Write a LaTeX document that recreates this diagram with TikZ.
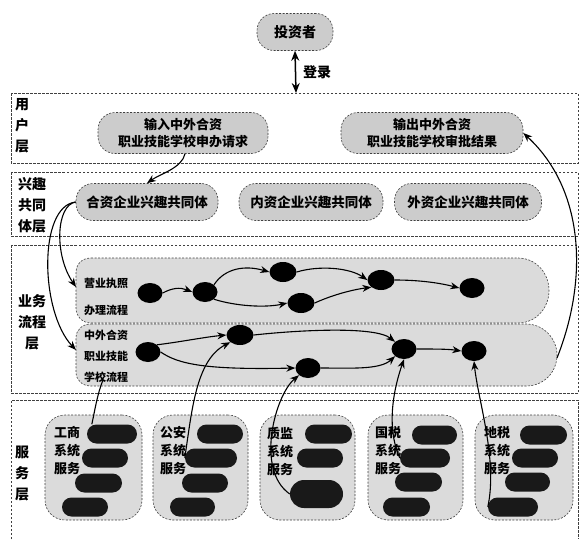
\documentclass[tikz,border=0pt]{standalone}
\usepackage{fontspec}
\newfontfamily\hbf{Noto Sans CJK SC}
\newcommand{\hb}{\hbf\bfseries}
\usetikzlibrary{arrows.meta,shapes.geometric}
\tikzset{
  layer/.style={draw=black!75, dash pattern=on 2.5pt off 1.5pt, line width=0.6pt},
  soft/.style={draw=black!75, dash pattern=on 2pt off 1.5pt, line width=0.6pt, fill=black!20,
               rounded corners=17pt, minimum height=39pt, align=center, inner sep=2pt,
               font=\hb\fontsize{13}{17}\selectfont},
  lane/.style={draw=black!75, dash pattern=on 2pt off 1.5pt, line width=0.6pt, fill=black!14},
  sbox/.style={draw=black!75, dash pattern=on 2pt off 1.5pt, line width=0.6pt, fill=black!14,
               rounded corners=20pt, minimum width=96pt, minimum height=105pt, inner sep=0pt},
  dot/.style={ellipse, fill=black, minimum width=25pt, minimum height=20pt, inner sep=0pt},
  pill/.style={fill=black!90, rounded corners=9.5pt, minimum height=19pt, inner sep=0pt},
  conn/.style={line width=1.1pt, -{Stealth[length=9pt,width=7pt]}},
  plain/.style={line width=1.1pt},
  lbl/.style={font=\hb\fontsize{14}{21}\selectfont, align=center, inner sep=0pt},
  lanetxt/.style={font=\hb\fontsize{11}{21}\selectfont, align=center, inner sep=0pt},
  stxt/.style={font=\hb\fontsize{13}{18}\selectfont, align=center, inner sep=0pt},
}
\begin{document}
\begin{tikzpicture}[x=1pt,y=-1pt]
\useasboundingbox (0,0) rectangle (581,539);
% ---------- layer frames ----------
\draw[layer] (11,93) rectangle (578,163);
\draw[layer] (11,172) rectangle (578,236);
\draw[layer] (11,245) rectangle (578,393);
\draw[layer] (11,539) -- (11,400) -- (578,400) -- (578,539);
% ---------- layer labels ----------
\node[lbl] (Luser) at (22,126) {用\\户\\层};
\node[lbl] (Lint) at (32,205) {兴趣\\共同\\体层};
\node[lbl] (Lproc) at (32,322) {业务\\流程\\层};
\node[lbl] (Lsvc) at (22,473) {服\\务\\层};
% ---------- top ----------
\node[soft, minimum width=76pt, minimum height=37pt, font=\hb\fontsize{14}{17}\selectfont] (inv) at (295,32) {投资者};
\coordinate (ut) at (296,93);
\draw[line width=1.5pt, {Stealth[length=10pt,width=8pt]}-{Stealth[length=10pt,width=8pt]}] (inv.south) -- (ut);
\node[lbl, anchor=west] (login) at (303,72) {登录};
% ---------- user layer ----------
\node[soft, minimum width=170pt, minimum height=41pt] (in) at (183,133) {输入中外合资\\职业技能学校申办请求};
\node[soft, minimum width=182pt, minimum height=41pt] (out) at (432,133) {输出中外合资\\职业技能学校审批结果};
% ---------- interest layer ----------
\node[soft, minimum width=142pt, minimum height=37pt, font=\hb\fontsize{13.5}{17}\selectfont] (c1) at (147,202) {合资企业兴趣共同体};
\node[soft, minimum width=144pt, minimum height=37pt, font=\hb\fontsize{13.5}{17}\selectfont] (c2) at (311,202) {内资企业兴趣共同体};
\node[soft, minimum width=147pt, minimum height=37pt, font=\hb\fontsize{13.5}{17}\selectfont] (c3) at (468,202) {外资企业兴趣共同体};
% ---------- lanes ----------
\path[lane] (91,258) -- (518,258) .. controls (536,258) and (549,273) .. (549,290.5)
   .. controls (549,308) and (536,323) .. (518,323) -- (91,323)
   .. controls (82,323) and (76,316) .. (76,308) -- (76,273)
   .. controls (76,264) and (82,258) .. (91,258) -- cycle;
\path[lane] (91,324) -- (526,324) .. controls (544,324) and (557,339) .. (557,355)
   .. controls (557,372) and (544,386) .. (526,386) -- (91,386)
   .. controls (82,386) and (76,380) .. (76,372) -- (76,338)
   .. controls (76,330) and (82,324) .. (91,324) -- cycle;
\coordinate (l1w) at (76,287);
\coordinate (l2w) at (76,350);
\coordinate (l2e) at (557,358);
\node[lanetxt] (t1a) at (106,283) {营业执照};
\node[lanetxt] (t1b) at (106,310) {办理流程};
\node[lanetxt] (t2) at (106,356) {中外合资\\职业技能\\学校流程};
% lane 1 nodes
\node[dot] (a1) at (150,293) {};
\node[dot] (a2) at (205,292) {};
\node[dot, minimum width=27pt] (a3) at (283,272) {};
\node[dot, minimum width=27pt] (a4) at (301,303) {};
\node[dot, minimum width=27pt] (a5) at (381,280) {};
\node[dot] (a6) at (472,288) {};
% lane 2 nodes
\node[dot] (b1) at (148,352) {};
\node[dot, minimum width=27pt] (b2) at (240,335) {};
\node[dot] (b3) at (308,368) {};
\node[dot] (b4) at (404,349) {};
\node[dot] (b5) at (474,351) {};
% lane 1 flow
\draw[conn] (a1.east) .. controls (172,288) and (180,287) .. (a2.west);
\draw[conn] (a2.north east) .. controls (225,268) and (245,265) .. (a3.west);
\draw[conn] (a2.south east) .. controls (235,306) and (265,308) .. (a4.west);
\draw[conn] (a3.east) .. controls (320,265) and (350,268) .. (a5.west);
\draw[conn] (a4.east) .. controls (330,296) and (350,290) .. (a5.south west);
\draw[conn] (a5.east) .. controls (420,280) and (440,283) .. (a6.west);
% lane 2 flow
\draw[conn] (b1.north east) .. controls (180,342) and (205,337) .. (b2.west);
\draw[conn] (b1.east) .. controls (178,364) and (205,370) .. (b3.west);
\draw[conn] (b2.east) .. controls (300,330) and (375,326) .. (b4.north west);
\draw[conn] (b3.east) .. controls (350,368) and (380,370) .. (b4.south west);
\draw[conn] (b4.east) .. controls (435,349) and (448,349) .. (b5.west);
% ---------- upper connectors ----------
\draw[conn] ([xshift=2pt]in.south) .. controls (182,168) and (160,174) .. (c1.north);
\draw[conn] (c1.west) .. controls (56,205) and (54,255) .. (l1w);
\draw[conn] (c1.west) .. controls (38,206) and (40,312) .. (l2w);
\draw[conn] (l2e) .. controls (588,280) and (585,190) .. (out.east);
% ---------- service layer ----------
\node[sbox, minimum width=97pt] (s1) at (93.5,467.5) {};
\node[sbox, minimum width=95pt] (s2) at (200.5,467.5) {};
\node[sbox, minimum width=95pt] (s3) at (307.5,467.5) {};
\node[sbox, minimum width=95pt] (s4) at (415.5,467.5) {};
\node[sbox, minimum width=98pt] (s5) at (524,467.5) {};
% pills box1
\node[pill, minimum width=50pt] (p11) at (112,434) {};
\node[pill, minimum width=46pt] (p12) at (105,458) {};
\node[pill, minimum width=47pt] (p13) at (98.5,483) {};
\node[pill, minimum width=46pt] (p14) at (85,507) {};
% pills box2
\node[pill, minimum width=46pt] (p21) at (220,434) {};
\node[pill, minimum width=52pt] (p22) at (211,458) {};
\node[pill, minimum width=46pt] (p23) at (205,483) {};
\node[pill, minimum width=45pt] (p24) at (192.5,507) {};
% pills box3
\node[pill, minimum width=47pt] (p31) at (328.5,434) {};
\node[pill, minimum width=46pt] (p32) at (320,458) {};
\node[pill, minimum width=53pt, minimum height=28pt, rounded corners=14pt] (p33) at (316.5,494) {};
% pills box4
\node[pill, minimum width=45pt] (p41) at (434.5,435) {};
\node[pill, minimum width=50pt] (p42) at (425,458) {};
\node[pill, minimum width=47pt] (p43) at (418.5,482) {};
\node[pill, minimum width=47pt] (p44) at (406.5,507) {};
% pills box5
\node[pill, minimum width=47pt] (p51) at (543.5,435) {};
\node[pill, minimum width=46pt] (p52) at (535,458) {};
\node[pill, minimum width=45pt] (p53) at (527.5,482) {};
\node[pill, minimum width=50pt] (p54) at (513,507) {};
% service texts
\node[stxt] (st1) at (67,451) {工商\\系统\\服务};
\node[stxt] (st2) at (173,451) {公安\\系统\\服务};
\node[stxt] (st3) at (280,451) {质监\\系统\\服务};
\node[stxt] (st4) at (388,451) {国税\\系统\\服务};
\node[stxt] (st5) at (497,451) {地税\\系统\\服务};
% service connectors
\coordinate (e1) at (103,380);
\draw[plain] ([xshift=5pt]p11.north west) .. controls (95,410) and (97,395) .. (e1);
\draw[conn] (p22.west) .. controls (192,410) and (196,360) .. (b2.south west);
\draw[conn] (p33.west) .. controls (255,470) and (275,395) .. (b3.south west);
\draw[conn] (p42.west) .. controls (385,425) and (395,385) .. (b4.south);
\draw[conn] (p54.west) .. controls (498,460) and (478,400) .. (b5.south);
\end{tikzpicture}
\end{document}
